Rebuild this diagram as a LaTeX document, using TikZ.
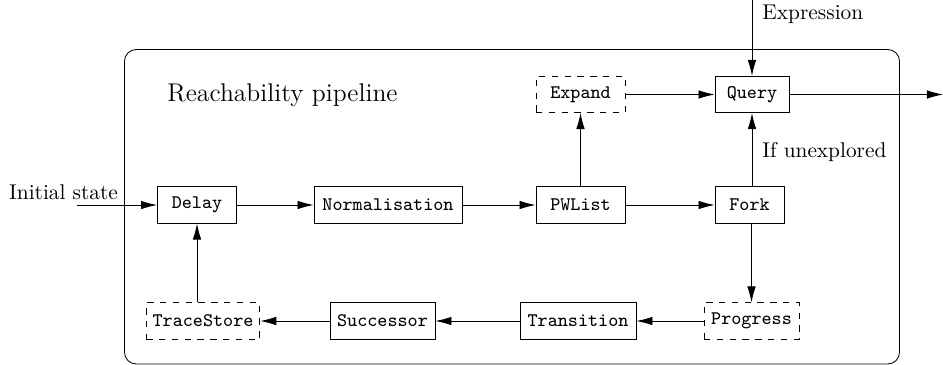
\documentclass[tikz,border=0pt]{standalone}
\usetikzlibrary{arrows.meta}
\begin{document}
\begin{tikzpicture}[x=0.4686pt, y=-0.4686pt,
  >={Latex[length=7.5pt,width=4pt]},
  stage/.style={draw, font=\small\ttfamily, minimum height=17pt,
    inner xsep=3pt, minimum width=#1*0.4686pt},
  optstage/.style={stage=#1, dashed},
  flow/.style={->},
  lbl/.style={font=\normalsize, inner sep=0pt}]
  \useasboundingbox (0,0) rectangle (943,365);

  % enclosing pipeline frame
  \draw[rounded corners=5.5pt] (124.5,49.5) rectangle (899.5,364);
  \node[font=\large, inner sep=0pt] (title) at (282.5,95) {Reachability pipeline};

  % main row
  \node[stage=79]  (Delay)  at (197,205)   {Delay};
  \node[stage=148] (Norm)   at (388,205)   {Normalisation};
  \node[stage=89]  (PWList) at (580.5,205) {PWList};
  \node[stage=69]  (Fork)   at (749.5,205) {Fork};

  % top row
  \node[optstage=89] (Expand) at (580.5,94.5) {Expand};
  \node[stage=74]    (Query)  at (752,94.5)   {Query};

  % bottom row
  \node[optstage=95]  (Progress)   at (751.5,321) {Progress};
  \node[stage=116]    (Transition) at (578,321)   {Transition};
  \node[stage=105]    (Successor)  at (382.5,321) {Successor};
  \node[optstage=112] (TraceStore) at (203,321)   {TraceStore};

  % free ends
  \coordinate (inStart) at (77,205);
  \coordinate (exprStart) at (752,0);
  \coordinate (outEnd) at (943,94.5);

  % labels
  \node[lbl] (initLbl) at (63.5,192) {Initial state};
  \node[lbl, anchor=west] (exprLbl) at (762,14) {Expression};
  \node[lbl, anchor=west] (unexpLbl) at (762,152) {If unexplored};

  % connectors
  \draw[flow] (inStart) -- (Delay);
  \draw[flow] (Delay) -- (Norm);
  \draw[flow] (Norm) -- (PWList);
  \draw[flow] (PWList) -- (Fork);
  \draw[flow] (PWList) -- (Expand);
  \draw[flow] (Expand) -- (Query);
  \draw[flow] (exprStart) -- (Query);
  \draw[flow] (Query) -- (outEnd);
  \draw[flow] (Fork.north -| Query.south) -- (Query.south);
  \draw[flow] (Fork.south -| Progress.north) -- (Progress.north);
  \draw[flow] (Progress) -- (Transition);
  \draw[flow] (Transition) -- (Successor);
  \draw[flow] (Successor) -- (TraceStore);
  \draw[flow] (TraceStore.north -| Delay.south) -- (Delay.south);
\end{tikzpicture}
\end{document}
